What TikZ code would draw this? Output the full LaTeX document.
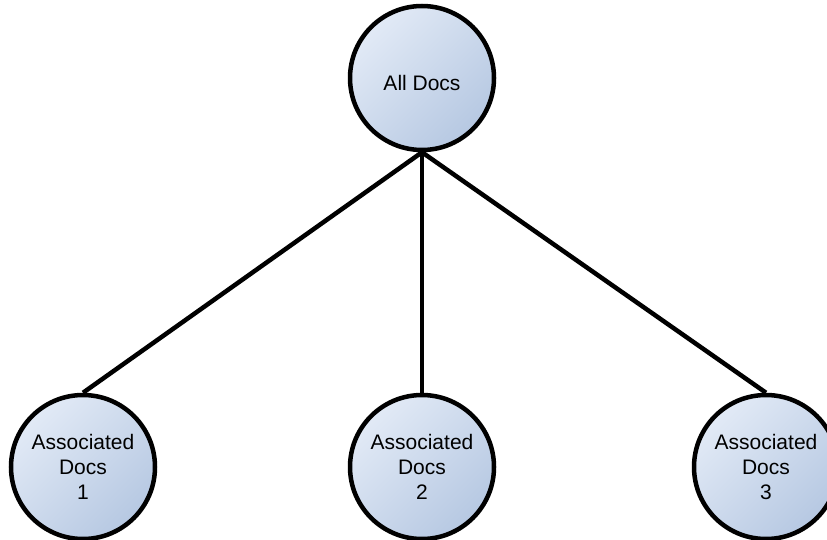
\documentclass[tikz,border=0pt]{standalone}
\usepackage{fontspec}
\setmainfont{Liberation Sans}
\usetikzlibrary{positioning,backgrounds}
\definecolor{doclight}{RGB}{226,234,246}
\definecolor{docdark}{RGB}{182,200,226}

\begin{document}
\begin{tikzpicture}[x=1pt, y=-1pt,
            doc/.style={circle, draw, line width=4.5pt, minimum size=144pt,
            inner sep=0pt, align=center, top color=doclight, bottom color=docdark,
            shading angle=45, font=\fontsize{21}{25}\selectfont},
            link/.style={line width=4.5pt}]
          \clip (0,0) rectangle (827,540);
          \useasboundingbox (0,0) rectangle (827,540);

          \node[doc, text height=25pt] (all) at (422,78) {All Docs};
          \node[doc] (A) at (83,467) {Associated\\Docs\\1};
          \node[doc] (B) at (422,467) {Associated\\Docs\\2};
          \node[doc] (C) at (766,467) {Associated\\Docs\\3};

          \begin{scope}[on background layer]
          \foreach \n in {A,B,C}
            \draw[link] (all.south) -- (\n.north);
          \end{scope}
        \end{tikzpicture}
\end{document}
